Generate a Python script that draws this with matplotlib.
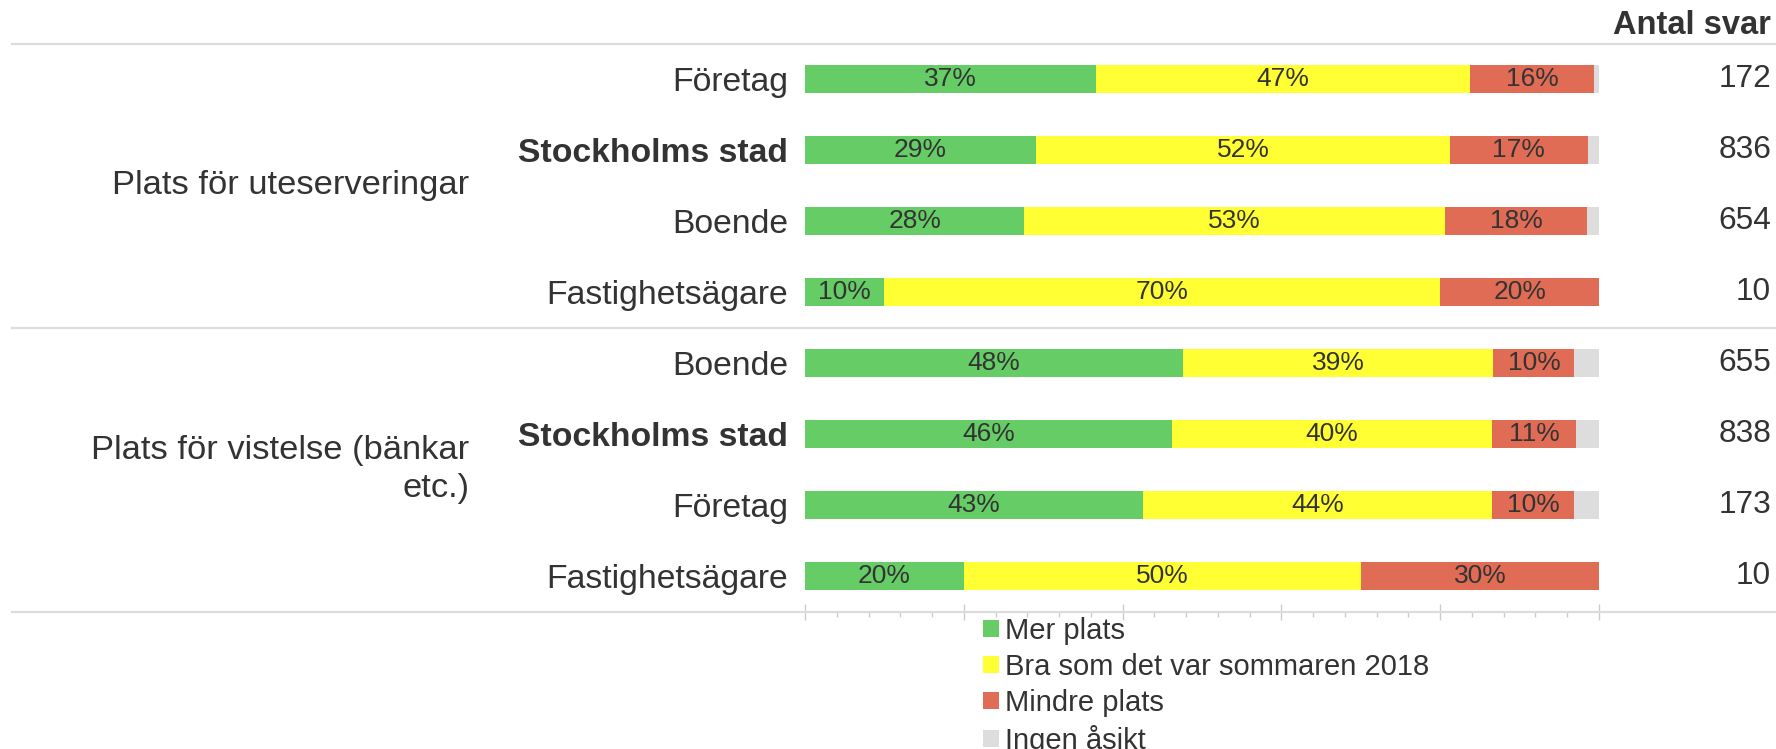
import matplotlib
matplotlib.use("Agg")
import matplotlib.pyplot as plt
from matplotlib.ticker import MultipleLocator
from matplotlib.transforms import blended_transform_factory

plt.rcParams["font.family"] = ["Liberation Sans", "DejaVu Sans"]

# survey answers, share of respondents in percent, rows top -> bottom
GROUPS = ["Plats för uteserveringar", "Plats för vistelse (bänkar\netc.)"]
ROW_LABELS = ["Företag", "Stockholms stad", "Boende", "Fastighetsägare",
              "Boende", "Stockholms stad", "Företag", "Fastighetsägare"]
ANSWERS = ["Mer plats", "Bra som det var sommaren 2018", "Mindre plats", "Ingen åsikt"]
MER = [36.6, 29.1, 27.6, 10.0, 47.6, 46.2, 42.6, 20.0]
BRA = [47.1, 52.1, 53.0, 70.0, 39.1, 40.3, 43.9, 50.0]
MINDRE = [15.7, 17.4, 17.9, 20.0, 10.2, 10.6, 10.4, 30.0]
INGEN = [0.6, 1.4, 1.5, 0.0, 3.1, 2.9, 3.1, 0.0]
N_SVAR = [172, 836, 654, 10, 655, 838, 173, 10]

COLORS = ["#66cc66", "#ffff33", "#e06c55", "#dddddd"]
TXT = "#333333"
GRID = "#dcdcdc"

W, H = 1776, 749
fig = plt.figure(figsize=(W / 100, H / 100), dpi=100)
ax = fig.add_axes([805 / W, 1 - 611.5 / H, (1599 - 805) / W, 568 / H])

y = list(range(len(ROW_LABELS)))
left = [0.0] * len(y)
for i, (name, vals) in enumerate(zip(ANSWERS, [MER, BRA, MINDRE, INGEN])):
    bars = ax.barh(y, vals, left=left, height=0.4, color=COLORS[i], label=name, linewidth=0)
    if i < 3:
        ax.bar_label(bars, labels=[f"{v:.0f}%" if v > 0 else "" for v in vals],
                     label_type="center", fontsize=19, color=TXT)
    left = [l + v for l, v in zip(left, vals)]

ax.set_xlim(0, 100)
ax.set_ylim(7.5, -0.5)
for s in ax.spines.values():
    s.set_visible(False)
ax.xaxis.set_major_locator(MultipleLocator(20))
ax.xaxis.set_minor_locator(MultipleLocator(4))
ax.tick_params(axis="x", which="major", direction="inout", length=11, width=1,
               color="#cccccc", labelbottom=False)
ax.tick_params(axis="x", which="minor", direction="out", length=3.5, width=1, color="#cccccc")

ax.set_yticks(y)
ax.set_yticklabels(ROW_LABELS, fontsize=24.3, color=TXT)
ax.tick_params(axis="y", length=0, pad=12)
for lab in ax.get_yticklabels():
    if lab.get_text() == "Stockholms stad":
        lab.set_fontweight("bold")

fx = blended_transform_factory(fig.transFigure, ax.transData)

# group separators across the full width
for yy in (-0.5, 3.5, 7.5):
    ax.plot([12 / W, 1], [yy, yy], transform=fx, color=GRID, lw=1.6, clip_on=False)

for g, name in enumerate(GROUPS):
    ax.text(469 / W, 1.5 + 4 * g, name, transform=fx, ha="right", va="center",
            multialignment="right", fontsize=24.8, color=TXT, linespacing=1.3)

for yi, n in zip(y, N_SVAR):
    ax.text(1771 / W, yi, str(n), transform=fx, ha="right", va="center",
            fontsize=22.8, color=TXT)

fig.text(1771 / W, 1 - 25 / H, "Antal svar", ha="right", va="center",
         fontsize=23.5, fontweight="bold", color=TXT)

handles, labels = ax.get_legend_handles_labels()
leg = fig.legend(handles, labels, loc="upper left", bbox_to_anchor=(983 / W, 1 - 617 / H),
                 frameon=False, fontsize=21, handlelength=0.55, handleheight=0.5,
                 handletextpad=0.2, labelspacing=0.27, borderpad=0, borderaxespad=0)
for t in leg.get_texts():
    t.set_color(TXT)

fig.savefig("out.png", dpi=100, facecolor="white")
